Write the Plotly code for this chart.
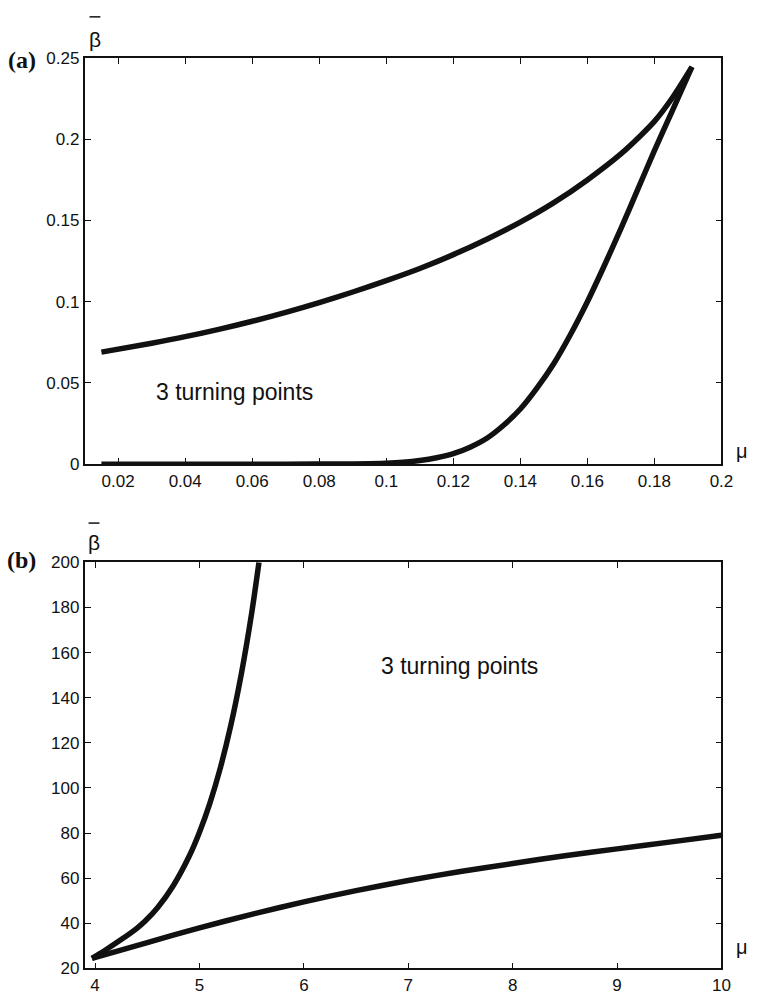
import plotly.graph_objects as go

# Panel (a) data
a_upper_mu = [0.015, 0.03, 0.04, 0.05, 0.06, 0.07, 0.08, 0.09, 0.10, 0.11, 0.12, 0.13, 0.14, 0.15, 0.16, 0.17, 0.176, 0.18, 0.185, 0.1912]
a_upper_beta = [0.069, 0.0745, 0.0785, 0.083, 0.088, 0.0935, 0.0995, 0.106, 0.113, 0.1205, 0.129, 0.1385, 0.149, 0.161, 0.175, 0.191, 0.2025, 0.211, 0.2245, 0.2446]
a_lower_mu = [0.015, 0.04, 0.07, 0.09, 0.10, 0.105, 0.11, 0.115, 0.12, 0.125, 0.13, 0.135, 0.14, 0.145, 0.15, 0.155, 0.16, 0.165, 0.17, 0.175, 0.18, 0.185, 0.1912]
a_lower_beta = [0.0, 0.0, 0.0, 0.0002, 0.0006, 0.0012, 0.0023, 0.004, 0.0065, 0.0105, 0.016, 0.024, 0.034, 0.047, 0.062, 0.08, 0.1, 0.122, 0.145, 0.169, 0.193, 0.216, 0.2446]

# Panel (b) data
b_left_mu = [3.97, 4.1, 4.25, 4.4, 4.48, 4.6, 4.75, 4.9, 5.0, 5.1, 5.2, 5.3, 5.4, 5.5, 5.57]
b_left_beta = [24.5, 28.2, 32.8, 37.8, 41, 47, 56.8, 69.6, 80.4, 93.3, 108.9, 127.7, 150.3, 177.5, 200]
b_lower_mu = [3.97, 4.5, 5, 5.5, 6, 6.5, 7, 7.5, 8, 8.5, 9, 9.5, 10]
b_lower_beta = [24.5, 31.5, 38, 44, 49.5, 54.5, 59, 63, 66.5, 70, 73, 76, 79]

a_xticks = [0.02, 0.04, 0.06, 0.08, 0.10, 0.12, 0.14, 0.16, 0.18, 0.20]
a_xtext = ["0.02", "0.04", "0.06", "0.08", "0.1", "0.12", "0.14", "0.16", "0.18", "0.2"]
a_yticks = [0, 0.05, 0.10, 0.15, 0.20, 0.25]
a_ytext = ["0", "0.05", "0.1", "0.15", "0.2", "0.25"]
b_xticks = [4, 5, 6, 7, 8, 9, 10]
b_yticks = [20, 40, 60, 80, 100, 120, 140, 160, 180, 200]

W, H = 761, 1003
def px(x): return x / W
def py(y): return 1 - y / H

line_style = dict(color="#111111", width=5.5, shape="spline", smoothing=0.8)

fig = go.Figure()
fig.add_trace(go.Scatter(x=a_upper_mu, y=a_upper_beta, mode="lines", line=line_style, xaxis="x", yaxis="y", showlegend=False))
fig.add_trace(go.Scatter(x=a_lower_mu, y=a_lower_beta, mode="lines", line=line_style, xaxis="x", yaxis="y", showlegend=False))
fig.add_trace(go.Scatter(x=b_left_mu, y=b_left_beta, mode="lines", line=line_style, xaxis="x2", yaxis="y2", showlegend=False))
fig.add_trace(go.Scatter(x=b_lower_mu, y=b_lower_beta, mode="lines", line=line_style, xaxis="x2", yaxis="y2", showlegend=False))

tickfont = dict(family="Liberation Sans, Arial, sans-serif", size=17, color="#111")
axis_common = dict(showline=True, linecolor="#111", linewidth=1.8, mirror="allticks",
                   ticks="inside", ticklen=6, tickwidth=1.3, tickcolor="#111",
                   showgrid=False, zeroline=False, tickfont=tickfont)

xd = [px(86), px(733)]
fig.update_layout(
    width=W, height=H, margin=dict(l=0, r=0, t=0, b=0),
    paper_bgcolor="white", plot_bgcolor="white",
    xaxis=dict(domain=xd, range=[0.01, 0.2], tickvals=a_xticks, ticktext=a_xtext, anchor="y", **axis_common),
    yaxis=dict(domain=[py(464), py(50)], range=[0, 0.25], tickvals=a_yticks, ticktext=a_ytext, anchor="x", **axis_common),
    xaxis2=dict(domain=xd, range=[3.9, 10], tickvals=b_xticks, anchor="y2", **axis_common),
    yaxis2=dict(domain=[py(978), py(564)], range=[20, 200], tickvals=b_yticks, anchor="x2", **axis_common),
)

def ann(x, y, text, font, xref="paper", yref="paper"):
    fig.add_annotation(x=x, y=y, xref=xref, yref=yref, text=text, showarrow=False,
                       font=font, xanchor="center", yanchor="middle")

ann_font = dict(family="Liberation Sans, Arial, sans-serif", size=23, color="#111")
ann(0.0546, 0.0444, "3 turning points", ann_font, "x", "y")
ann(7.49, 153.9, "3 turning points", ann_font, "x2", "y2")

lab_font = dict(family="Liberation Serif, Times New Roman, serif", size=24, color="#111")
ann(px(22), py(52), "<b>(a)</b>", lab_font)
ann(px(22), py(562), "<b>(b)</b>", lab_font)

beta_font = dict(family="Liberation Sans, Arial, sans-serif", size=21, color="#111")
ann(px(97), py(31), "β", beta_font)
ann(px(96), py(544), "β", beta_font)
fig.add_shape(type="line", xref="paper", yref="paper", x0=px(91), x1=px(102), y0=py(8), y1=py(8), line=dict(color="#111", width=1.5))
fig.add_shape(type="line", xref="paper", yref="paper", x0=px(90), x1=px(101), y0=py(524), y1=py(524), line=dict(color="#111", width=1.5))

mu_font = dict(family="Liberation Sans, Arial, sans-serif", size=20, color="#111")
ann(px(754), py(451), "μ", mu_font)
ann(px(754), py(956), "μ", mu_font)

fig.write_html("out.html")
